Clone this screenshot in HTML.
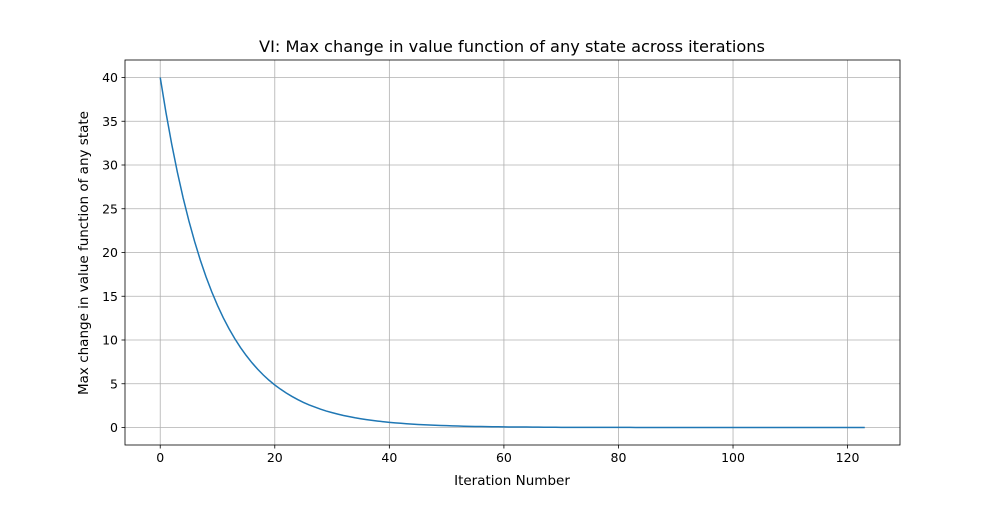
<!DOCTYPE html>
<html><head><meta charset="utf-8"><style>
body{margin:0;background:#fff;}
svg{font-family:"DejaVu Sans","Liberation Sans",sans-serif;}
</style></head><body>
<svg id="chart" width="1000" height="500" xmlns="http://www.w3.org/2000/svg">
<text x="512" y="52" text-anchor="middle" font-size="16.2">VI: Max change in value function of any state across iterations</text>
<g id="grid"></g>
<g id="ticks"></g>
<path id="line" fill="none" stroke="#1f77b4" stroke-width="1.5"/>
<rect x="125" y="60" width="775" height="385" fill="none" stroke="#000" stroke-width="0.8"/>
<text x="512" y="485" text-anchor="middle" font-size="13.5">Iteration Number</text>
<text transform="translate(88,253) rotate(-90)" text-anchor="middle" font-size="13.5">Max change in value function of any state</text>
</svg>
<script>
const xTicks=[0,20,40,60,80,100,120];
const yTicks=[0,5,10,15,20,25,30,35,40];
const maxChange=[40,36,32.4,29.16,26.24,23.62,21.26,19.13,17.22,15.5,13.95,12.55,11.3,10.17,9.15,8.24,7.41,6.67,6.0,5.4,4.86,4.38,3.94,3.55,3.19,2.87,2.58,2.33,2.09,1.88,1.7,1.53,1.37,1.24,1.11,1.0,0.9,0.81,0.73,0.66,0.59,0.53,0.48,0.43,0.39,0.35,0.31,0.28,0.25,0.23,0.21,0.19,0.17,0.15,0.13,0.12,0.11,0.1,0.09,0.08,0.07,0.06,0.06,0.05,0.05,0.04,0.04,0.03,0.03,0.03,0.02,0.02,0.02,0.02,0.01,0.01,0.01,0.01,0.01,0.01,0.01,0.01,0.01,0,0,0,0,0,0,0,0,0,0,0,0,0,0,0,0,0,0,0,0,0,0,0,0,0,0,0,0,0,0,0,0,0,0,0,0,0,0,0,0,0];
const L=125,R=900,T=60,B=445;
const xMin=-6.15,xMax=129.15,yMin=-2,yMax=42;
const sx=v=>L+(v-xMin)/(xMax-xMin)*(R-L);
const sy=v=>B-(v-yMin)/(yMax-yMin)*(B-T);
const NS="http://www.w3.org/2000/svg";
const grid=document.getElementById('grid'),ticks=document.getElementById('ticks');
function mk(tag,attrs,parent){const e=document.createElementNS(NS,tag);for(const k in attrs)e.setAttribute(k,attrs[k]);parent.appendChild(e);return e;}
xTicks.forEach(v=>{
 const x=sx(v);
 const g=mk('line',{x1:x,x2:x,y1:T,y2:B,stroke:'#b0b0b0','stroke-width':0.8},grid);
 
 
 const t=mk('line',{x1:x,x2:x,y1:B,y2:B+3.5,stroke:'#000','stroke-width':0.8},ticks);
 
 
 const l=mk('text',{x:x,y:B+17,'text-anchor':'middle','font-size':12.5},ticks);
 l.textContent=v;
 
 
});
yTicks.forEach(v=>{
 const y=sy(v);
 const g=mk('line',{x1:L,x2:R,y1:y,y2:y,stroke:'#b0b0b0','stroke-width':0.8},grid);
 
 
 const t=mk('line',{x1:L-3.5,x2:L,y1:y,y2:y,stroke:'#000','stroke-width':0.8},ticks);
 
 
 const l=mk('text',{x:L-7,y:y+4.5,'text-anchor':'end','font-size':12.5},ticks);
 l.textContent=v;
 
 
});
document.getElementById('line').setAttribute('d',maxChange.map((v,i)=>(i?'L':'M')+sx(i).toFixed(2)+','+sy(v).toFixed(2)).join(''));
</script>
</body></html>
